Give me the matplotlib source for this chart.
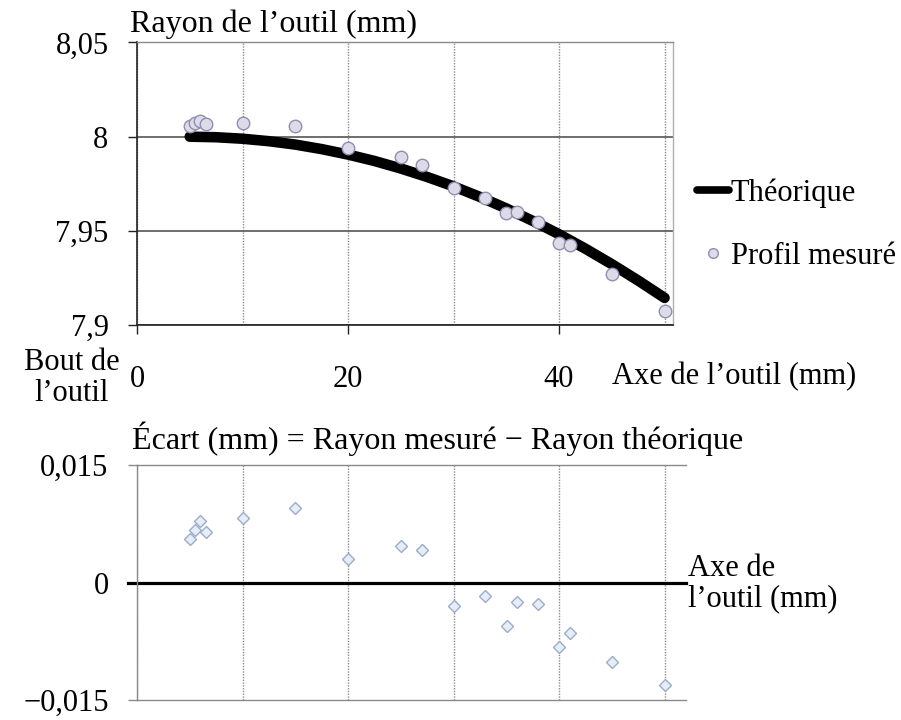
import matplotlib
matplotlib.use("Agg")
import matplotlib.pyplot as plt
from matplotlib.lines import Line2D
from matplotlib.ticker import FixedLocator, MultipleLocator

plt.rcParams['font.family'] = ['Liberation Serif', 'DejaVu Serif']
plt.rcParams['axes.unicode_minus'] = True

# Positions le long de l'axe de l'outil (mm)
x_mesure = [5, 5.5, 6, 6.5, 10, 15, 20, 25, 27, 30, 33, 35, 36, 38, 40, 41, 45, 50]
# Rayon mesuré (mm)
r_mesure = [8.0058, 8.0071, 8.0083, 8.0069, 8.0073, 8.0058, 7.9942, 7.9894,
            7.9852, 7.9726, 7.9675, 7.9595, 7.9600, 7.9546, 7.9436, 7.9426,
            7.9272, 7.9074]
# Profil théorique (mm)
x_theo = [5, 7.5, 10, 12.5, 15, 17.5, 20, 22.5, 25, 27.5, 30, 32.5, 35,
          37.5, 40, 42.5, 45, 47.5, 50]
r_theo = [8.0000, 7.9997, 7.9989, 7.9976, 7.9958, 7.9934, 7.9905, 7.9871,
          7.9831, 7.9786, 7.9736, 7.9680, 7.9619, 7.9553, 7.9482, 7.9405,
          7.9323, 7.9236, 7.9144]
# Écart = rayon mesuré - rayon théorique (mm)
ecart = [0.0056, 0.0067, 0.0078, 0.0065, 0.0082, 0.0095, 0.0030, 0.0047,
         0.0041, -0.0030, -0.0017, -0.0055, -0.0025, -0.0028, -0.0082,
         -0.0065, -0.0102, -0.0131]

# Graduations
top_yticks = [7.9, 7.95, 8.0, 8.05]
top_ylabels = ["7,9", "7,95", "8", "8,05"]
top_xticks = [0, 20, 40]
top_xlabels = ["0", "20", "40"]
bot_yticks = [-0.015, 0.0, 0.015]
bot_ylabels = ["\u22120,015", "0", "0,015"]

W, H = 901, 720
fig = plt.figure(figsize=(W / 100, H / 100), dpi=100)

FS = 22
FT = 23
DARK = "#222222"
GRID = "#555555"
LIGHT = "#8a8a8a"
DOT = "#8c8c8c"

# ---------------- Rayon de l'outil ----------------
ax1 = fig.add_axes([137 / W, 1 - 325 / H, 536 / W, 282.5 / H])
ax1.set_xlim(0, 50.8)
ax1.set_ylim(7.9, 8.05)

ax1.xaxis.set_major_locator(FixedLocator(top_xticks))
ax1.set_xticklabels(top_xlabels)
ax1.xaxis.set_minor_locator(MultipleLocator(10))
ax1.yaxis.set_major_locator(FixedLocator(top_yticks))
ax1.set_yticklabels(top_ylabels)

ax1.set_axisbelow(True)
ax1.grid(axis='y', which='major', color=GRID, lw=1.2, ls='-')
ax1.grid(axis='x', which='both', color=DOT, lw=1.0, ls=(0, (1, 1)))

ax1.tick_params(axis='both', which='major', direction='out', length=6.5,
                width=1.0, color=DARK, labelsize=FS)
ax1.tick_params(axis='x', which='major', pad=22)
ax1.tick_params(axis='y', which='major', pad=14)
ax1.tick_params(axis='x', which='minor', length=0)

for side in ('left', 'bottom'):
    ax1.spines[side].set_color(DARK)
    ax1.spines[side].set_linewidth(1.2)
ax1.spines['top'].set_color(LIGHT)
ax1.spines['top'].set_linewidth(1.0)
ax1.spines['right'].set_color("#b0b0b0")
ax1.spines['right'].set_linewidth(1.0)

ax1.plot(x_theo, r_theo, color='black', lw=7.6, solid_capstyle='round',
         solid_joinstyle='round', zorder=3)
ax1.plot(x_mesure, r_mesure, ls='none', marker='o', ms=9.0,
         mfc='#dddbe8', mec='#908eb2', mew=1.0, zorder=4)

handles = [
    Line2D([], [], color='black', lw=5.5, solid_capstyle='round'),
    Line2D([], [], ls='none', marker='o', ms=7, mfc='#dddbe8', mec='#908eb2',
           mew=1.0),
]
fig.legend(handles, ["Th\u00e9orique", "Profil mesur\u00e9"],
           loc='upper left', bbox_to_anchor=(697 / W, 1 - 178 / H),
           frameon=False, fontsize=FS, handlelength=1.05, handletextpad=0.05,
           labelspacing=1.12, borderpad=0, borderaxespad=0)

fig.text(130 / W, 1 - 32 / H, "Rayon de l\u2019outil (mm)", fontsize=FT,
         ha='left', va='baseline')
fig.text(72 / W, 1 - 370 / H, "Bout de", fontsize=FS, ha='center',
         va='baseline')
fig.text(72 / W, 1 - 401 / H, "l\u2019outil", fontsize=FS, ha='center',
         va='baseline')
fig.text(612 / W, 1 - 384 / H, "Axe de l\u2019outil (mm)", fontsize=FS,
         ha='left', va='baseline')

# ---------------- Écart ----------------
ax2 = fig.add_axes([137 / W, 20 / H, 549 / W, 235 / H])
ax2.set_xlim(0, 52)
ax2.set_ylim(-0.015, 0.015)
ax2.xaxis.set_major_locator(MultipleLocator(10))
ax2.set_xticklabels([])
ax2.yaxis.set_major_locator(FixedLocator(bot_yticks))
ax2.set_yticklabels(bot_ylabels)

ax2.set_axisbelow(True)
ax2.grid(axis='x', which='major', color=DOT, lw=1.0, ls=(0, (1, 1)))
ax2.tick_params(axis='x', length=0)
ax2.tick_params(axis='y', direction='out', length=6.5, width=1.0,
                color=LIGHT, labelsize=FS, pad=14)

for side in ('left', 'bottom', 'top'):
    ax2.spines[side].set_color(LIGHT)
    ax2.spines[side].set_linewidth(1.0)
ax2.spines['right'].set_visible(False)

# Ligne du zéro, prolongée jusqu'au trait de graduation
ax2.axhline(0, xmin=-9 / 549, xmax=1.0, color='black', lw=2.3, zorder=2,
            clip_on=False)
ax2.plot(x_mesure, ecart, ls='none', marker='D', ms=6.0,
         mfc='#e6edf6', mec='#9badcb', mew=1.0, zorder=4)

fig.text(132 / W, 1 - 449 / H,
         "\u00c9cart (mm) = Rayon mesur\u00e9 \u2212 Rayon th\u00e9orique",
         fontsize=FT, ha='left', va='baseline')
fig.text(688 / W, 1 - 576 / H, "Axe de", fontsize=FS, ha='left',
         va='baseline')
fig.text(688 / W, 1 - 606 / H, "l\u2019outil (mm)", fontsize=FS, ha='left',
         va='baseline')

fig.savefig("out.png", dpi=100)
